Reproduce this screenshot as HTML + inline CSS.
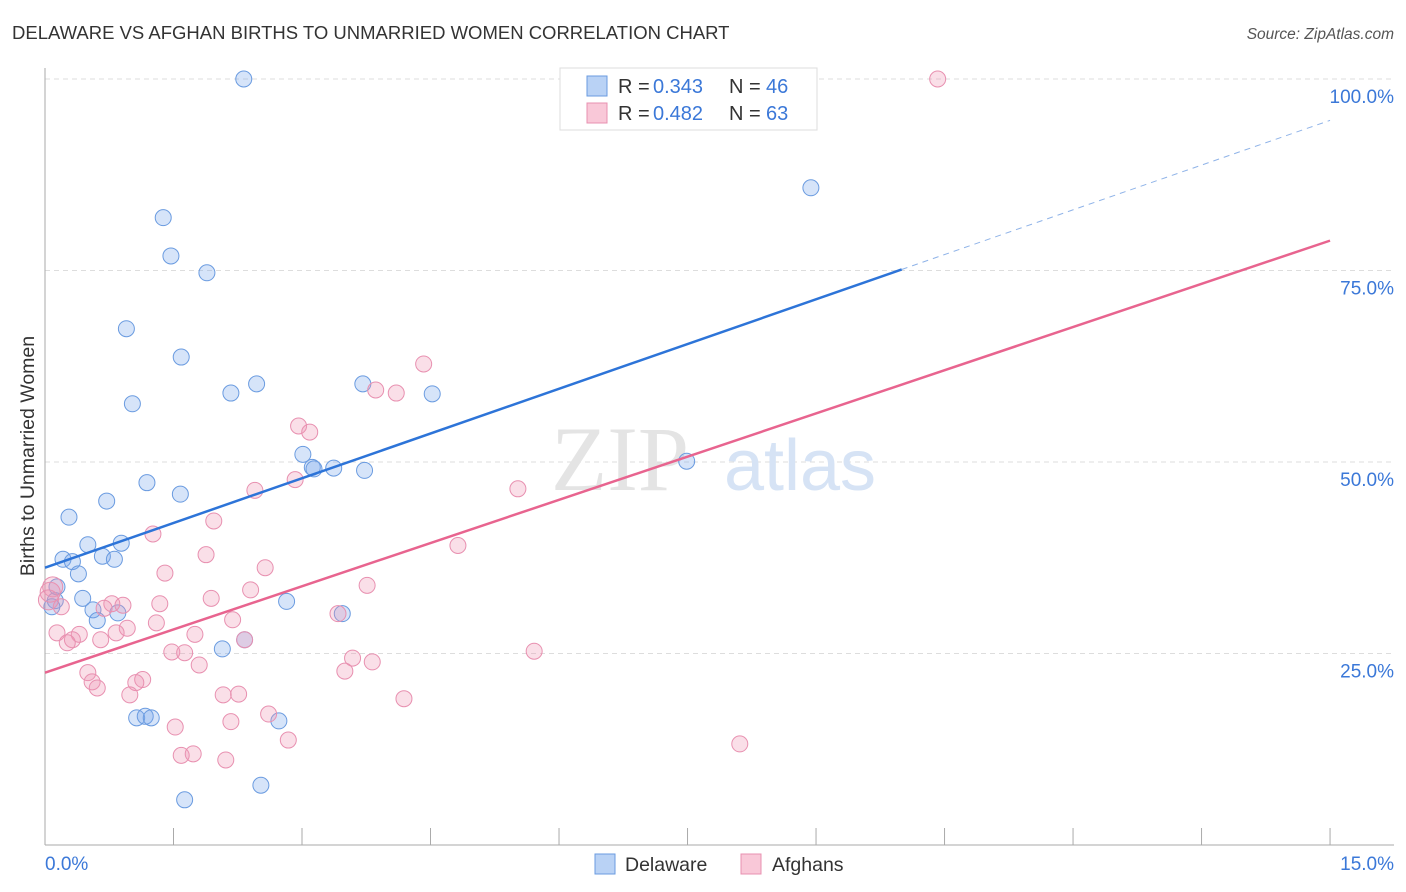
<!DOCTYPE html>
<html><head><meta charset="utf-8"><style>
body{margin:0;background:#fff;font-family:"Liberation Sans",sans-serif}
svg{display:block}
</style></head><body>
<svg id="chart" width="1406" height="892">
<text x="12" y="39" font-size="18.5" fill="#333">DELAWARE VS AFGHAN BIRTHS TO UNMARRIED WOMEN CORRELATION CHART</text>
<text x="1394" y="39" font-size="15.5" fill="#555" font-style="italic" text-anchor="end">Source: ZipAtlas.com</text>
<text x="34" y="456" font-size="19.5" fill="#333" text-anchor="middle" transform="rotate(-90 34 456)">Births to Unmarried Women</text>
<g id="grid"></g><g id="axes"></g>
<text x="620" y="490" font-size="92" fill="#e4e4e4" font-family="Liberation Serif" text-anchor="middle">ZIP</text>
<text x="800" y="490" font-size="72" fill="#d6e3f5" text-anchor="middle">atlas</text>
<g id="pts"></g><g id="lines"></g>
<g font-size="20">
<rect x="560" y="68" width="257" height="62" fill="#fff" stroke="#ddd"/>
<rect x="587" y="76" width="20" height="20" fill="#b9d2f5" stroke="#6a9be0"/>
<text x="618" y="93" fill="#333">R =</text><text x="653" y="93" fill="#3b78d8">0.343</text>
<text x="729" y="93" fill="#333">N =</text><text x="766" y="93" fill="#3b78d8">46</text>
<rect x="587" y="103" width="20" height="20" fill="#f9c8d8" stroke="#e890b0"/>
<text x="618" y="120" fill="#333">R =</text><text x="653" y="120" fill="#3b78d8">0.482</text>
<text x="729" y="120" fill="#333">N =</text><text x="766" y="120" fill="#3b78d8">63</text>
</g>
<g>
<rect x="595" y="854" width="20" height="20" fill="#b9d2f5" stroke="#6a9be0"/>
<text x="625" y="871" font-size="19.5" fill="#333">Delaware</text>
<rect x="741" y="854" width="20" height="20" fill="#f9c8d8" stroke="#e890b0"/>
<text x="772" y="871" font-size="19.5" fill="#333">Afghans</text>
</g>
</svg>
<script>
const blueX=[2.32,1.38,1.47,1.89,0.95,1.59,2.47,2.17,1.02,3.71,4.52,8.94,7.49,3.01,3.12,3.14,3.37,3.73,1.19,1.58,0.72,0.28,0.5,0.89,0.21,0.32,0.67,0.81,0.39,0.14,0.12,0.08,0.44,0.56,0.85,0.61,2.82,3.47,2.07,2.33,1.07,1.17,1.24,2.73,1.63,2.52];
const blueY=[100,81.9,76.9,74.7,67.4,63.7,60.2,59,57.6,60.2,58.9,85.8,50.1,51,49.3,49.1,49.2,48.9,47.3,45.8,44.9,42.8,39.2,39.4,37.3,37,37.7,37.3,35.4,33.7,31.9,31.1,32.2,30.7,30.3,29.3,31.8,30.2,25.6,26.8,16.6,16.8,16.6,16.2,5.9,7.8];
const pinkX=[10.42,4.42,3.86,4.1,2.96,3.09,2.45,2.92,5.52,1.26,1.97,1.88,4.82,2.57,1.4,3.76,2.4,1.94,1.34,0.78,0.91,0.69,0.19,3.42,2.19,1.3,0.96,0.83,0.14,0.4,0.32,0.26,0.65,1.75,2.33,1.48,1.63,5.71,3.59,3.82,1.8,3.5,0.5,1.14,1.06,0.55,0.61,0.99,2.08,2.26,4.19,2.61,2.17,1.52,2.84,1.59,1.73,2.11,8.11,0.06,0.09,0.04];
const pinkY=[100,62.8,59.4,59,54.7,53.9,46.3,47.7,46.5,40.6,42.3,37.9,39.1,36.2,35.5,33.9,33.3,32.2,31.5,31.5,31.3,30.9,31.1,30.2,29.4,29,28.3,27.7,27.7,27.5,26.8,26.4,26.8,27.5,26.8,25.2,25.1,25.3,24.4,23.9,23.5,22.7,22.5,21.6,21.2,21.3,20.5,19.6,19.6,19.7,19.1,17.1,16.1,15.4,13.7,11.7,11.9,11.1,13.2,33,33.7,32];
const xTicks=[0,1.5,3,4.5,6,7.5,9,10.5,12,13.5,15];
const yTicks=[25,50,75,100];
const yTickLabels=["25.0%","50.0%","75.0%","100.0%"];
const blueLine=[36.2,94.6], pinkLine=[22.5,78.9];
const X=v=>45+v*85.67, Y=v=>845-v*7.66;
const NS="http://www.w3.org/2000/svg";
function mk(t,a,p){const e=document.createElementNS(NS,t);for(const k in a)e.setAttribute(k,a[k]);p.appendChild(e);return e;}
const grid=document.getElementById('grid'),axes=document.getElementById('axes'),pts=document.getElementById('pts'),lines=document.getElementById('lines');
yTicks.forEach((t,i)=>{
 const l=mk('line',{x1:45,x2:1394,y1:Y(t),y2:Y(t),stroke:'#ddd','stroke-dasharray':'5,4'},grid);
 
 
 const tx=mk('text',{x:1394,y:Y(t)+24,'font-size':19,fill:'#3b78d8','text-anchor':'end'},axes);
 tx.textContent=yTickLabels[i];
 
 
});
mk('line',{x1:45,x2:45,y1:68,y2:845,stroke:'#aaa'},axes);
mk('line',{x1:45,x2:1394,y1:845,y2:845,stroke:'#aaa'},axes);
xTicks.forEach(t=>{const l=mk('line',{x1:X(t),x2:X(t),y1:828,y2:845,stroke:'#aaa'},axes);
 
 });
const x0=mk('text',{x:45,y:870,'font-size':19,fill:'#3b78d8'},axes);x0.textContent='0.0%';


const x1=mk('text',{x:1394,y:870,'font-size':19,fill:'#3b78d8','text-anchor':'end'},axes);x1.textContent='15.0%';


blueX.forEach((v,i)=>{const c=mk('circle',{cx:X(v),cy:Y(blueY[i]),r:8,fill:'rgba(120,165,235,0.3)',stroke:'#6a9be0','stroke-width':1},pts);
 
 });
pinkX.forEach((v,i)=>{const c=mk('circle',{cx:X(v),cy:Y(pinkY[i]),r:(i>=59?10:8),fill:'rgba(240,150,180,0.3)',stroke:'#e890b0','stroke-width':1},pts);
 
 });
const by=x=>blueLine[0]+(blueLine[1]-blueLine[0])*x/15;
const bl=mk('line',{x1:X(0),y1:Y(by(0)),x2:X(10),y2:Y(by(10)),stroke:'#2d74d8','stroke-width':2.5},lines);


const bd=mk('line',{x1:X(10),y1:Y(by(10)),x2:X(15),y2:Y(by(15)),stroke:'#8fb3e8','stroke-width':1,'stroke-dasharray':'6,5'},lines);


const pl=mk('line',{x1:X(0),y1:Y(pinkLine[0]),x2:X(15),y2:Y(pinkLine[1]),stroke:'#e8648f','stroke-width':2.5},lines);


</script>
</body></html>
